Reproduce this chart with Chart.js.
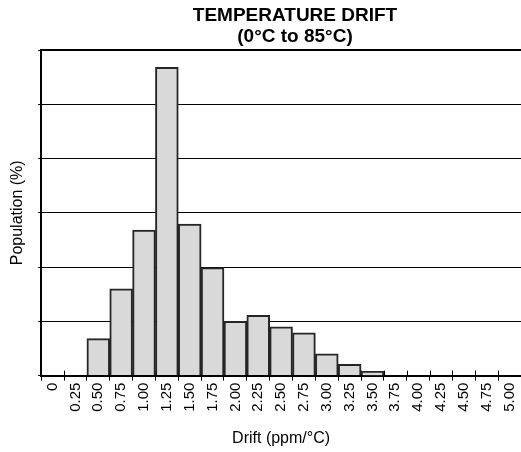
<!DOCTYPE html>
<html>
<head>
<meta charset="utf-8">
<script src="https://cdn.jsdelivr.net/npm/chart.js@4.4.0/dist/chart.umd.min.js"></script>
<style>
  body { margin: 0; background: #fff; }
  #wrap { width: 521px; height: 452px; }
</style>
</head>
<body>
<div id="wrap"><canvas id="chart1"></canvas></div>
<script>
//Data
const labels = ['0', '0.25', '0.50', '0.75', '1.00', '1.25', '1.50', '1.75', '2.00', '2.25', '2.50',
                '2.75', '3.00', '3.25', '3.50', '3.75', '4.00', '4.25', '4.50', '4.75', '5.00'];
const population = [0, 0, 0.68, 1.60, 2.68, 5.68, 2.79, 1.99, 1.00, 1.11, 0.90,
                    0.79, 0.40, 0.21, 0.08, 0, 0, 0, 0, 0, 0];
const titleLines = ['TEMPERATURE DRIFT', '(0°C to 85°C)'];

const font = 'Liberation Sans, Arial, Helvetica, sans-serif';

//Title, top frame line and the upper half of the x tick marks
const framePlugin = {
    id: 'frame',
    beforeDatasetsDraw(chart) {
        const c = chart.ctx;
        const a = chart.chartArea;
        const x = chart.scales.x;
        c.save();
        c.strokeStyle = '#000';
        c.lineWidth = 1;
        for (let i = 0; i <= labels.length; i++) {
            const px = Math.round(x.getPixelForValue(i - 0.5)) + 0.5;
            c.beginPath();
            c.moveTo(px, a.bottom);
            c.lineTo(px, a.bottom - 5);
            c.stroke();
        }
        c.restore();
    },
    afterDraw(chart) {
        const c = chart.ctx;
        const a = chart.chartArea;
        c.save();
        c.strokeStyle = '#000';
        c.lineWidth = 2;
        c.beginPath();
        c.moveTo(a.left - 1, a.top);
        c.lineTo(a.right + 1, a.top);
        c.stroke();
        c.fillStyle = '#000';
        c.font = 'bold 19px ' + font;
        c.textAlign = 'center';
        c.textBaseline = 'alphabetic';
        c.fillText(titleLines[0], 295, 21);
        c.fillText(titleLines[1], 295, 42);
        c.restore();
    }
};

const ctx = document.querySelector('#chart1');
const myChart = new Chart(ctx, {
    type: 'bar',
    data: {
        labels: labels,
        datasets: [{
            data: population,
            backgroundColor: '#d9d9d9',
            borderColor: '#262626',
            borderWidth: 2,
            barPercentage: 1,
            categoryPercentage: 1
        }]
    },
    options: {
        responsive: true,
        maintainAspectRatio: false,
        devicePixelRatio: 1,
        animation: false,
        layout: {
            padding: { top: 50, right: 0, left: 0, bottom: 4 }
        },
        plugins: {
            legend: { display: false },
            tooltip: { enabled: false }
        },
        scales: {
            x: {
                afterFit(scale) {
                    scale.paddingRight = 0;
                    scale.paddingLeft = 0;
                },
                grid: {
                    display: true,
                    offset: true,
                    drawOnChartArea: false,
                    color: '#000',
                    tickLength: 5
                },
                border: { color: '#000', width: 2 },
                ticks: {
                    color: '#000',
                    minRotation: 90,
                    maxRotation: 90,
                    autoSkip: false,
                    padding: 2,
                    font: { family: font, size: 15 }
                },
                title: {
                    display: true,
                    text: 'Drift (ppm/°C)',
                    color: '#000',
                    padding: { top: 15, bottom: 0 },
                    font: { family: font, size: 16 }
                }
            },
            y: {
                min: 0,
                max: 6,
                grid: {
                    color: '#000',
                    lineWidth: 1,
                    tickLength: 3
                },
                border: { color: '#000', width: 2 },
                ticks: {
                    display: false,
                    stepSize: 1
                },
                title: {
                    display: true,
                    text: 'Population (%)',
                    color: '#000',
                    padding: { top: 8, bottom: 11 },
                    font: { family: font, size: 16 }
                }
            }
        }
    },
    plugins: [framePlugin]
});
</script>
</body>
</html>
